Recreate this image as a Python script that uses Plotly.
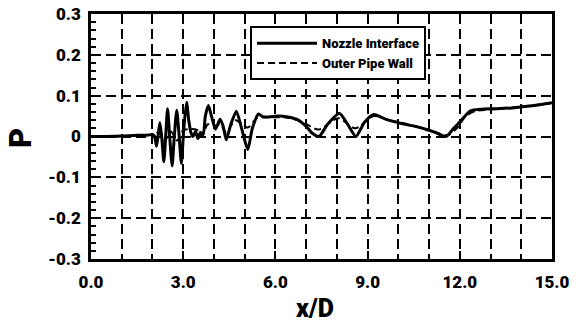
import plotly.graph_objects as go

# Nozzle Interface (solid)
x_nozzle = [0.0, 0.5, 1.0, 1.5, 1.9, 2.0, 2.07, 2.13, 2.18, 2.24, 2.30, 2.37, 2.43, 2.49, 2.56,
            2.64, 2.71, 2.79, 2.87, 2.94, 3.02, 3.11, 3.18, 3.25, 3.32, 3.40, 3.48, 3.56, 3.65,
            3.72, 3.82, 3.92, 4.05, 4.2, 4.3, 4.4, 4.55, 4.73, 4.9, 5.1, 5.25, 5.45, 5.6, 5.8,
            6.1, 6.4, 6.7, 7.0, 7.2, 7.42, 7.7, 8.08, 8.35, 8.62, 8.9, 9.2, 9.6, 10.1, 10.7,
            11.2, 11.55, 11.8, 12.05, 12.35, 12.7, 13.2, 13.7, 14.2, 14.6, 15.0]
p_nozzle = [0.0, 0.0, 0.001, 0.003, 0.004, 0.005, 0.0, -0.024, 0.0, 0.034, 0.0, -0.062, 0.0, 0.068, 0.0,
            -0.072, 0.0, 0.064, 0.0, -0.066, 0.02, 0.084, 0.04, 0.01, 0.0, 0.012, -0.005, 0.01, 0.005,
            0.05, 0.076, 0.05, 0.018, 0.042, 0.025, -0.008, 0.03, 0.062, 0.02, -0.032, 0.02, 0.055, 0.048, 0.048,
            0.05, 0.048, 0.042, 0.025, 0.008, 0.0, 0.03, 0.057, 0.03, 0.0, 0.035, 0.054, 0.042, 0.032, 0.022,
            0.01, 0.0, 0.02, 0.04, 0.063, 0.067, 0.068, 0.07, 0.074, 0.078, 0.083]

# Outer Pipe Wall (dashed)
x_wall = [0.0, 1.0, 2.0, 2.2, 2.4, 2.6, 2.8, 3.0, 3.2, 3.45, 3.6, 3.8, 4.0, 4.2, 4.4, 4.7, 5.1,
          5.4, 5.8, 6.4, 6.9, 7.4, 8.05, 8.6, 9.2, 9.7, 10.2, 10.8, 11.3, 11.6, 11.9, 12.2, 12.5,
          13.0, 14.0, 15.0]
p_wall = [0.0, 0.001, 0.004, 0.01, -0.01, 0.012, -0.01, 0.015, 0.018, 0.016, 0.0, 0.03, 0.025, 0.03,
          0.01, 0.04, 0.022, 0.045, 0.047, 0.046, 0.035, 0.017, 0.045, 0.02, 0.05, 0.04, 0.032, 0.02,
          0.008, 0.003, 0.02, 0.05, 0.062, 0.066, 0.073, 0.082]

y_tickvals = [-0.3, -0.2, -0.1, 0.0, 0.1, 0.2, 0.3]
y_ticktext = ["-0.3", "-0.2", "-0.1", "0", "0.1", "0.2", "0.3"]
x_tickvals = [0, 3, 6, 9, 12, 15]
x_ticktext = ["0.0", "3.0", "6.0", "9.0", "12.0", "15.0"]

FONT = "Roboto, Liberation Sans, sans-serif"

fig = go.Figure()
fig.add_trace(go.Scatter(x=x_nozzle, y=p_nozzle, mode="lines", name="Nozzle Interface",
                         line=dict(color="black", width=3, shape="spline", smoothing=0.6)))
fig.add_trace(go.Scatter(x=x_wall, y=p_wall, mode="lines", name="Outer Pipe Wall",
                         line=dict(color="black", width=2, dash="7px,4px", shape="spline", smoothing=0.8)))

fig.update_layout(
    width=586, height=322,
    margin=dict(l=91, r=34, t=14, b=63, autoexpand=False),
    paper_bgcolor="white", plot_bgcolor="white",
    showlegend=True,
    legend=dict(x=0.345, y=0.95, xanchor="left", yanchor="top",
                bordercolor="black", borderwidth=2, bgcolor="white",
                itemwidth=60, tracegroupgap=0,
                font=dict(family=FONT, size=13, color="black", weight=900)),
    annotations=[
        dict(text="x/D", x=0.486, y=-0.2, xref="paper", yref="paper", showarrow=False,
             xanchor="center", yanchor="middle",
             font=dict(family=FONT, size=25, color="black", weight=900)),
        dict(text="P", x=-0.152, y=0.494, xref="paper", yref="paper", showarrow=False,
             textangle=-90, xanchor="center", yanchor="middle",
             font=dict(family=FONT, size=31, color="black", weight=900)),
    ],
)

fig.update_xaxes(
    range=[0, 15], tickvals=x_tickvals, ticktext=x_ticktext, automargin=False,
    ticks="inside", ticklen=8, tickwidth=2, tickcolor="black",
    ticklabelstandoff=6,
    tickfont=dict(family=FONT, size=17, color="black", weight=900),
    showline=True, linewidth=2.5, linecolor="black", mirror=True,
    showgrid=True, gridcolor="black", gridwidth=1.5, griddash="10px,5px",
    minor=dict(dtick=1, ticks="inside", ticklen=5, tickwidth=1.5, tickcolor="black",
               showgrid=True, gridcolor="black", gridwidth=1.5, griddash="10px,5px"),
    zeroline=False,
)
fig.update_yaxes(
    range=[-0.3, 0.3], tickvals=y_tickvals, ticktext=y_ticktext, automargin=False,
    ticks="inside", ticklen=9, tickwidth=2, tickcolor="black",
    ticklabelstandoff=4,
    tickfont=dict(family=FONT, size=17, color="black", weight=900),
    showline=True, linewidth=2.5, linecolor="black", mirror=True,
    showgrid=True, gridcolor="black", gridwidth=1.5, griddash="10px,5px",
    minor=dict(dtick=0.02, ticks="inside", ticklen=5, tickwidth=1.5, tickcolor="black",
               showgrid=False),
    zeroline=False,
)

fig.write_html("out.html")
